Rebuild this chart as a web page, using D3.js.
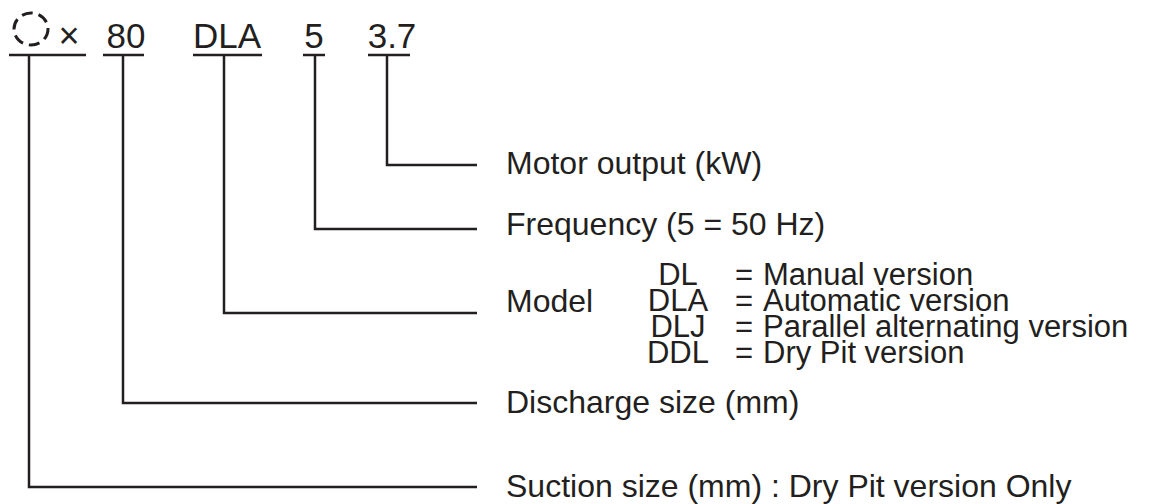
<!DOCTYPE html>
<html lang="en">
<head>
  <meta charset="UTF-8" />
  <title>Model code</title>
  <style>
    body { margin: 0; background: #fff; }
    text { font-family: "Liberation Sans", Arial, sans-serif; fill: #231f20; }
    .leader { fill: none; stroke: #231f20; stroke-width: 2.5px; }
  </style>
</head>
<body>
  <svg id="chart" width="1158" height="504"></svg>
  <script src="https://d3js.org/d3.v7.min.js"></script>
  <script>
    // model code segments, left to right (first one is the dashed-circle placeholder)
    const codeParts = ["", "80", "DLA", "5", "3.7"];
    const meanings = [
      "Suction size (mm) : Dry Pit version Only",
      "Discharge size (mm)",
      "Model",
      "Frequency (5 = 50 Hz)",
      "Motor output (kW)"
    ];
    const modelCodes = ["DL", "DLA", "DLJ", "DDL"];
    const modelNames = ["Manual version", "Automatic version", "Parallel alternating version", "Dry Pit version"];

    var svg = d3.select("#chart");
    var idx = d3.range(codeParts.length);

    // layout scales
    var textX = d3.scaleOrdinal().domain(idx).range([48, 126, 227, 314, 392]);
    var underX0 = d3.scaleOrdinal().domain(idx).range([9, 103, 193, 303, 368]);
    var underX1 = d3.scaleOrdinal().domain(idx).range([86, 144, 262, 325, 410]);
    var stemX = d3.scaleOrdinal().domain(idx).range([29, 123, 224, 315, 387]);
    var rowY = d3.scaleOrdinal().domain(idx).range([487, 403, 313, 229, 165]);
    var labelY = d3.scaleOrdinal().domain(idx).range([497, 413, 312, 235, 174]);
    var codeY = d3.scaleLinear().domain([0, modelCodes.length - 1]).range([285, 363]);

    var topY = 55, lineEnd = 477, labelX = 506;

    // code text
    svg.selectAll("text.code")
      .data(codeParts)
      .enter().append("text")
        .attr("class", "code")
        .attr("x", function(d, i) { return textX(i); })
        .attr("y", 48)
        .attr("text-anchor", "middle")
        .style("font-size", "35px")
        .text(function(d) { return d; });

    // dashed circle + multiply sign for suction size
    svg.append("ellipse")
      .attr("cx", 31).attr("cy", 29)
      .attr("rx", 17).attr("ry", 16)
      .attr("fill", "none")
      .attr("stroke", "#231f20")
      .attr("stroke-width", 3)
      .attr("stroke-dasharray", "11 6");
    svg.append("text")
      .attr("x", 69).attr("y", 48)
      .attr("text-anchor", "middle")
      .style("font-size", "36px")
      .text("\u00d7");

    // underlines
    svg.selectAll("line.under")
      .data(idx)
      .enter().append("line")
        .attr("class", "leader")
        .attr("x1", function(i) { return underX0(i); })
        .attr("x2", function(i) { return underX1(i); })
        .attr("y1", topY).attr("y2", topY);

    // leader lines
    svg.selectAll("path.lead")
      .data(idx)
      .enter().append("path")
        .attr("class", "leader")
        .attr("d", function(i) {
          return d3.line()([[stemX(i), topY], [stemX(i), rowY(i)], [lineEnd, rowY(i)]]);
        });

    // labels
    svg.selectAll("text.label")
      .data(meanings)
      .enter().append("text")
        .attr("class", "label")
        .attr("x", labelX)
        .attr("y", function(d, i) { return labelY(i); })
        .style("font-size", "32px")
        .text(function(d) { return d; });

    // model list
    var rows = svg.selectAll("g.model")
      .data(modelCodes)
      .enter().append("g")
        .attr("transform", function(d, i) { return "translate(0," + codeY(i) + ")"; });
    rows.append("text")
      .attr("x", 678)
      .attr("text-anchor", "middle")
      .style("font-size", "31px")
      .text(function(d) { return d; });
    rows.append("text")
      .attr("x", 735)
      .style("font-size", "31px")
      .text("=");
    rows.append("text")
      .attr("x", 763)
      .style("font-size", "31px")
      .text(function(d, i) { return modelNames[i]; });
  </script>
</body>
</html>
